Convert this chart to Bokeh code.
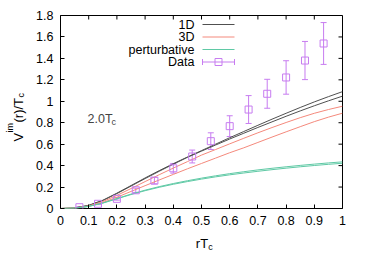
import math
from bokeh.plotting import figure
from bokeh.layouts import row, column
from bokeh.models import (Range1d, FixedTicker, CustomJSTickFormatter,
                          ColumnDataSource, Whisker, TeeHead, Label)
from bokeh.core.properties import value
from bokeh.embed import file_html
from bokeh.resources import INLINE

# ---------------- data ----------------
r_grid = [0.0, 0.05, 0.1, 0.15, 0.2, 0.25, 0.3, 0.35, 0.4, 0.45, 0.5,
          0.55, 0.6, 0.65, 0.7, 0.75, 0.8, 0.85, 0.9, 0.95, 1.0]

v_1d_a = [0.0, 0.005, 0.03, 0.077, 0.143, 0.214, 0.285, 0.353, 0.418, 0.48, 0.54,
          0.6, 0.66, 0.718, 0.776, 0.833, 0.888, 0.942, 0.994, 1.043, 1.09]
v_1d_b = [0.0, 0.004, 0.028, 0.074, 0.139, 0.209, 0.279, 0.347, 0.413, 0.477, 0.535,
          0.592, 0.648, 0.702, 0.756, 0.808, 0.86, 0.91, 0.958, 1.004, 1.048]
v_3d_a = [0.0, 0.004, 0.024, 0.065, 0.122, 0.186, 0.251, 0.315, 0.377, 0.437, 0.498,
          0.55, 0.603, 0.655, 0.706, 0.755, 0.802, 0.847, 0.888, 0.923, 0.954]
v_3d_b = [0.0, 0.003, 0.021, 0.055, 0.105, 0.159, 0.213, 0.266, 0.318, 0.37, 0.42,
          0.47, 0.52, 0.566, 0.616, 0.666, 0.715, 0.763, 0.81, 0.852, 0.889]
v_pt_a = [0.0, 0.003, 0.02, 0.052, 0.093, 0.134, 0.171, 0.204, 0.233, 0.259, 0.283,
          0.305, 0.325, 0.343, 0.36, 0.375, 0.389, 0.402, 0.414, 0.425, 0.435]
v_pt_b = [0.0, 0.003, 0.019, 0.05, 0.09, 0.13, 0.166, 0.198, 0.226, 0.251, 0.274,
          0.295, 0.314, 0.331, 0.347, 0.362, 0.376, 0.389, 0.401, 0.412, 0.422]

data_r = [0.067, 0.133, 0.2, 0.267, 0.333, 0.4, 0.467, 0.533, 0.6, 0.667, 0.733,
          0.8, 0.867, 0.933]
data_v = [0.012, 0.044, 0.09, 0.17, 0.26, 0.375, 0.485, 0.628, 0.768, 0.923, 1.07,
          1.222, 1.38, 1.539]
data_err = [0.005, 0.008, 0.012, 0.02, 0.03, 0.045, 0.06, 0.078, 0.097, 0.13, 0.135,
            0.156, 0.178, 0.195]

x_ticks = [0.0, 0.1, 0.2, 0.3, 0.4, 0.5, 0.6, 0.7, 0.8, 0.9, 1.0]
x_tick_labels = ["0", "0.1", "0.2", "0.3", "0.4", "0.5", "0.6", "0.7", "0.8", "0.9", "1"]
y_ticks = [0.0, 0.2, 0.4, 0.6, 0.8, 1.0, 1.2, 1.4, 1.6, 1.8]
y_tick_labels = ["0", "0.2", "0.4", "0.6", "0.8", "1", "1.2", "1.4", "1.6", "1.8"]

legend_labels = ["1D", "3D", "perturbative", "Data"]

# ---------------- styles / layout ----------------
C_1D = "#505050"
C_3D = "#f4897c"
C_PT = "#5fc9a5"
C_DATA = "#c77cf0"
FONT = "Liberation Sans"
TICK_FS = "12.5px"
TXT_FS = "12.5px"
LAB_FS = "13px"
SUB_FS = "9px"
TICK_LEN = 4

PAGE_W, PAGE_H = 370, 259
YL_W = 30            # width of the strip holding the y title
XL_H = 28            # height of the strip holding the x title
MAIN_W, MAIN_H = PAGE_W - YL_W, PAGE_H - XL_H
# frame position in page pixels
FL, FR, FT, FB = 60, 342, 15, 208
X0, X1, Y0, Y1 = 0.0, 1.0, 0.0, 1.8


def dx(px):
    return X0 + (px - FL) * (X1 - X0) / (FR - FL)


def dy(py):
    return Y0 + (FB - py) * (Y1 - Y0) / (FB - FT)


p = figure(width=MAIN_W, height=MAIN_H, output_backend="svg", toolbar_location=None,
           x_range=Range1d(X0, X1), y_range=Range1d(Y0, Y1),
           min_border_left=FL - YL_W, min_border_right=PAGE_W - FR,
           min_border_top=FT, min_border_bottom=MAIN_H - FB)
p.background_fill_color = "white"
p.border_fill_color = "white"
p.outline_line_color = "black"
p.outline_line_width = 1
p.xgrid.visible = False
p.ygrid.visible = False

fmt_code = """
let best = 0;
for (let i = 0; i < tv.length; i++) {
  if (Math.abs(tv[i] - tick) < Math.abs(tv[best] - tick)) best = i;
}
return tl[best];
"""

for ax, ticks, labels in ((p.xaxis[0], x_ticks, x_tick_labels),
                          (p.yaxis[0], y_ticks, y_tick_labels)):
    ax.ticker = FixedTicker(ticks=ticks)
    ax.formatter = CustomJSTickFormatter(args=dict(tv=ticks, tl=labels), code=fmt_code)
    ax.major_tick_in = TICK_LEN
    ax.major_tick_out = 0
    ax.minor_tick_line_color = None
    ax.axis_line_color = None
    ax.major_tick_line_color = "black"
    ax.major_label_text_font = FONT
    ax.major_label_text_font_size = TICK_FS
    ax.major_label_text_color = "black"
    ax.major_label_standoff = 7

# mirrored inward ticks on top and right edges
tx = TICK_LEN * (X1 - X0) / (FR - FL)
ty = TICK_LEN * (Y1 - Y0) / (FB - FT)
p.segment(x0=x_ticks, y0=[Y1] * len(x_ticks), x1=x_ticks, y1=[Y1 - ty] * len(x_ticks),
          line_color="black", line_width=1)
p.segment(x0=[X1] * len(y_ticks), y0=y_ticks, x1=[X1 - tx] * len(y_ticks), y1=y_ticks,
          line_color="black", line_width=1)

# curves
for ys in (v_1d_a, v_1d_b):
    p.line(r_grid, ys, line_color=C_1D, line_width=1)
for ys in (v_3d_a, v_3d_b):
    p.line(r_grid, ys, line_color=C_3D, line_width=1)
for ys in (v_pt_a, v_pt_b):
    p.line(r_grid, ys, line_color=C_PT, line_width=1)

# data with error bars
src = ColumnDataSource(dict(
    r=data_r, v=data_v,
    up=[v + e for v, e in zip(data_v, data_err)],
    lo=[v - e for v, e in zip(data_v, data_err)],
))
p.add_layout(Whisker(source=src, base="r", upper="up", lower="lo",
                     line_color=C_DATA, line_width=1,
                     upper_head=TeeHead(size=6, line_color=C_DATA, line_width=1),
                     lower_head=TeeHead(size=6, line_color=C_DATA, line_width=1)))
p.scatter("r", "v", source=src, marker="square", size=7, fill_color=None,
          line_color=C_DATA, line_width=1)

# ---------------- legend (gnuplot style: text then sample) ----------------
leg_text_x = 194
leg_s0, leg_s1 = 202, 234
leg_rows = [24, 36.5, 49, 61.5]
leg_colors = [C_1D, C_3D, C_PT, C_DATA]
for lab, rw, col in zip(legend_labels, leg_rows, leg_colors):
    p.add_layout(Label(x=dx(leg_text_x), y=dy(rw), text=lab, text_font=FONT,
                       text_font_size=TXT_FS, text_align="right", text_baseline="middle",
                       text_color="black"))
    p.segment(x0=[dx(leg_s0)], y0=[dy(rw)], x1=[dx(leg_s1)], y1=[dy(rw)],
              line_color=col, line_width=1)
drow = leg_rows[3]
p.segment(x0=[dx(leg_s0), dx(leg_s1)], y0=[dy(drow - 3), dy(drow - 3)],
          x1=[dx(leg_s0), dx(leg_s1)], y1=[dy(drow + 3), dy(drow + 3)],
          line_color=C_DATA, line_width=1)
p.scatter([dx((leg_s0 + leg_s1) / 2)], [dy(drow)], marker="square", size=7,
          fill_color=None, line_color=C_DATA, line_width=1)

# ---------------- annotation 2.0 T_c ----------------
p.add_layout(Label(x=dx(87), y=dy(118), text="2.0T", text_font=FONT,
                   text_font_size=TXT_FS, text_align="left", text_baseline="alphabetic"))
p.add_layout(Label(x=dx(111), y=dy(121), text="c", text_font=FONT,
                   text_font_size=SUB_FS, text_align="left", text_baseline="alphabetic"))


# ---------------- axis titles in side strips ----------------
def strip(w, h):
    f = figure(width=w, height=h, output_backend="svg", toolbar_location=None,
               x_range=Range1d(0, w), y_range=Range1d(0, h),
               x_axis_type=None, y_axis_type=None, min_border=0)
    f.outline_line_color = None
    f.background_fill_color = "white"
    f.border_fill_color = "white"
    f.xgrid.visible = False
    f.ygrid.visible = False
    return f


# y title: page coordinates -> strip coordinates (x same, y flipped)
yl = strip(YL_W, PAGE_H)
ang = math.pi / 2
y_parts = [("V", 17.5, 141, LAB_FS), ("im", 9.5, 132, SUB_FS),
           ("(r)/T", 17.5, 122, LAB_FS), ("c", 20.5, 97, SUB_FS)]
for txt, xb, yp, fs in y_parts:
    yl.text(x=[xb], y=[PAGE_H - yp], text=[txt], angle=ang,
            text_font=value(FONT), text_font_size=value(fs), text_color="black",
            text_align="left", text_baseline="alphabetic")

# x title (strip occupies page y from MAIN_H to PAGE_H)
xl = strip(MAIN_W, XL_H)
x_parts = [("rT", 208, 243, LAB_FS, "right"), ("c", 208, 246, SUB_FS, "left")]
for txt, xp, yp, fs, al in x_parts:
    xl.text(x=[xp - YL_W], y=[PAGE_H - yp], text=[txt],
            text_font=value(FONT), text_font_size=value(fs), text_color="black",
            text_align=al, text_baseline="alphabetic")

layout = row(yl, column(p, xl, spacing=0), spacing=0)

open("out.html", "w").write(file_html(layout, INLINE))
